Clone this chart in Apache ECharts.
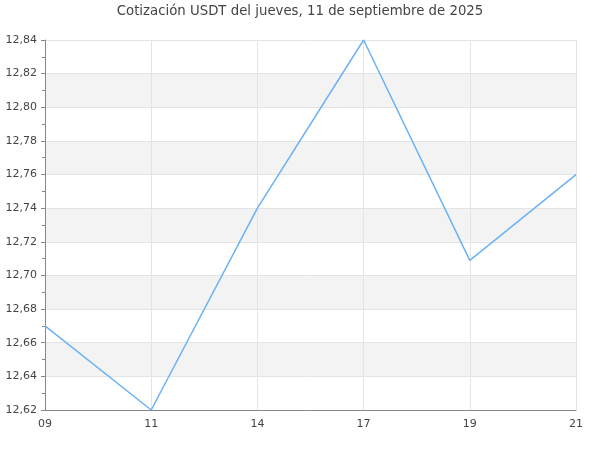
<!DOCTYPE html>
<html><head><meta charset="utf-8">
<script src="https://cdn.jsdelivr.net/npm/echarts@6/dist/echarts.min.js"></script>
<style>html,body{margin:0;padding:0;background:#fff}#c{width:600px;height:450px}</style>
</head><body><div id="c"></div>
<script>
const titleText = 'Cotización USDT del jueves, 11 de septiembre de 2025';
const categories = ['09', '11', '14', '17', '19', '21'];
const values = [12.67, 12.62, 12.74, 12.84, 12.709, 12.76];
const yMin = 12.62, yMax = 12.84, yStep = 0.02;

const chart = echarts.init(document.getElementById('c'), null, {renderer: 'canvas'});
chart.setOption({
  animation: false,
  textStyle: {fontFamily: 'DejaVu Sans'},
  title: {text: titleText, left: 'center', top: 0,
    textStyle: {fontSize: 13.3, fontWeight: 'normal', color: '#444', fontFamily: 'DejaVu Sans'}},
  grid: {left: 45, right: 24, top: 40, bottom: 40, containLabel: false},
  xAxis: {type: 'category', data: categories, boundaryGap: false,
    axisLine: {lineStyle: {color: '#888'}},
    axisTick: {show: false},
    axisLabel: {color: '#444', fontSize: 11, margin: 9},
    splitLine: {show: true, lineStyle: {color: '#e4e4e4'}}},
  yAxis: {type: 'value', min: yMin, max: yMax, interval: yStep,
    axisLine: {show: true, lineStyle: {color: '#888'}},
    axisTick: {show: true, length: 4, lineStyle: {color: '#888'}},
    minorTick: {show: true, splitNumber: 2, length: 3, lineStyle: {color: '#888'}},
    axisLabel: {color: '#444', fontSize: 11, margin: 8,
      formatter: v => v.toFixed(2).replace('.', ',')},
    splitLine: {show: true, lineStyle: {color: '#e4e4e4'}},
    splitArea: {show: true, areaStyle: {color: ['#ffffff', '#f3f3f3']}}},
  series: [{type: 'line', data: values, showSymbol: false, symbol: 'none',
    lineStyle: {color: '#6ab2f4', width: 1.5}, itemStyle: {color: '#6ab2f4'}}]
});
</script></body></html>
